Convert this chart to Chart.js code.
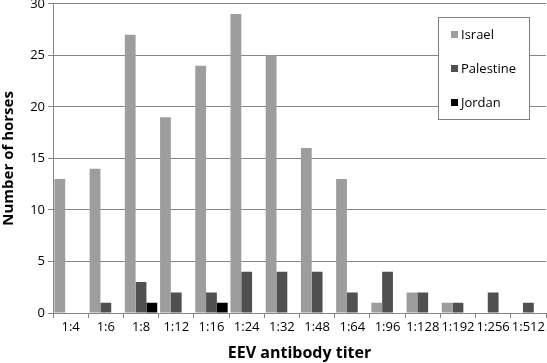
<!DOCTYPE html>
<html>
<head>
<meta charset="utf-8">
<script src="https://cdn.jsdelivr.net/npm/chart.js@4"></script>
<style>
  html, body { margin: 0; padding: 0; background: #fff; overflow: hidden; }
  #wrap { width: 547px; height: 363px; overflow: hidden; position: relative; }
  #titerChart { position: absolute; left: 0; top: -7px; }
</style>
</head>
<body>
<div id="wrap"><canvas id="titerChart" width="547" height="370"></canvas></div>
<script>
// EEV antibody titers by country
const titers = ['1:4', '1:6', '1:8', '1:12', '1:16', '1:24', '1:32', '1:48', '1:64', '1:96', '1:128', '1:192', '1:256', '1:512'];
const israel = [13, 14, 27, 19, 24, 29, 25, 16, 13, 1, 2, 1, 0, 0];
const palestine = [0, 1, 3, 2, 2, 4, 4, 4, 2, 4, 2, 1, 2, 1];
const jordan = [0, 0, 1, 0, 1, 0, 0, 0, 0, 0, 0, 0, 0, 0];
const yTicks = [0, 5, 10, 15, 20, 25, 30];

const FONT = '"Open Sans", "DejaVu Sans", sans-serif';
const lineColor = '#868686';

// legend box drawn inside the plot, top right (canvas sits 7px higher than the page)
const boxLegend = {
  id: 'boxLegend',
  afterDraw(chart) {
    const c = chart.ctx;
    const x = 438, y = 24, w = 91, h = 102;
    c.save();
    c.fillStyle = '#fff';
    c.fillRect(x, y, w, h);
    c.strokeStyle = '#808080';
    c.lineWidth = 1;
    c.strokeRect(x + 0.5, y + 0.5, w, h);
    c.font = '13px ' + FONT;
    c.textBaseline = 'middle';
    chart.data.datasets.forEach((ds, i) => {
      const cy = 41 + i * 34;
      c.fillStyle = ds.backgroundColor;
      c.fillRect(451, cy - 3, 7, 7);
      c.fillStyle = '#000';
      c.fillText(ds.label, 461, cy + 1);
    });
    c.restore();
  }
};

new Chart(document.getElementById('titerChart').getContext('2d'), {
  type: 'bar',
  data: {
    labels: titers,
    datasets: [
      { label: 'Israel', data: israel, backgroundColor: '#9d9d9d' },
      { label: 'Palestine', data: palestine, backgroundColor: '#505050' },
      { label: 'Jordan', data: jordan, backgroundColor: '#000000' }
    ]
  },
  options: {
    responsive: false,
    animation: false,
    layout: { padding: { top: 0, right: 1, left: 0, bottom: 0 } },
    datasets: { bar: { categoryPercentage: 0.92, barPercentage: 1.0 } },
    plugins: {
      legend: { display: false },
      tooltip: { enabled: false }
    },
    scales: {
      x: {
        offset: true,
        grid: { offset: true, drawOnChartArea: false, drawTicks: true, tickLength: 5, color: lineColor },
        border: { color: lineColor },
        ticks: { color: '#000', font: { family: FONT, size: 13 }, maxRotation: 0, autoSkip: false, padding: 1 },
        title: { display: true, text: 'EEV antibody titer', color: '#000', font: { family: FONT, size: 16, weight: 'bold' }, padding: { top: 3, bottom: 0 } },
        afterFit(scale) { scale.height = 50; }
      },
      y: {
        min: 0,
        max: 30,
        afterBuildTicks(scale) { scale.ticks = yTicks.map(v => ({ value: v })); },
        grid: { color: lineColor, tickLength: 5, drawTicks: true },
        border: { color: lineColor },
        ticks: { color: '#000', font: { family: FONT, size: 13 }, padding: 3 },
        title: { display: true, text: 'Number of horses', color: '#000', font: { family: FONT, size: 15, weight: 'bold' }, padding: { top: 0, bottom: 2 } },
        afterFit(scale) { scale.width = 53; }
      }
    }
  },
  plugins: [boxLegend]
});
</script>
</body>
</html>
